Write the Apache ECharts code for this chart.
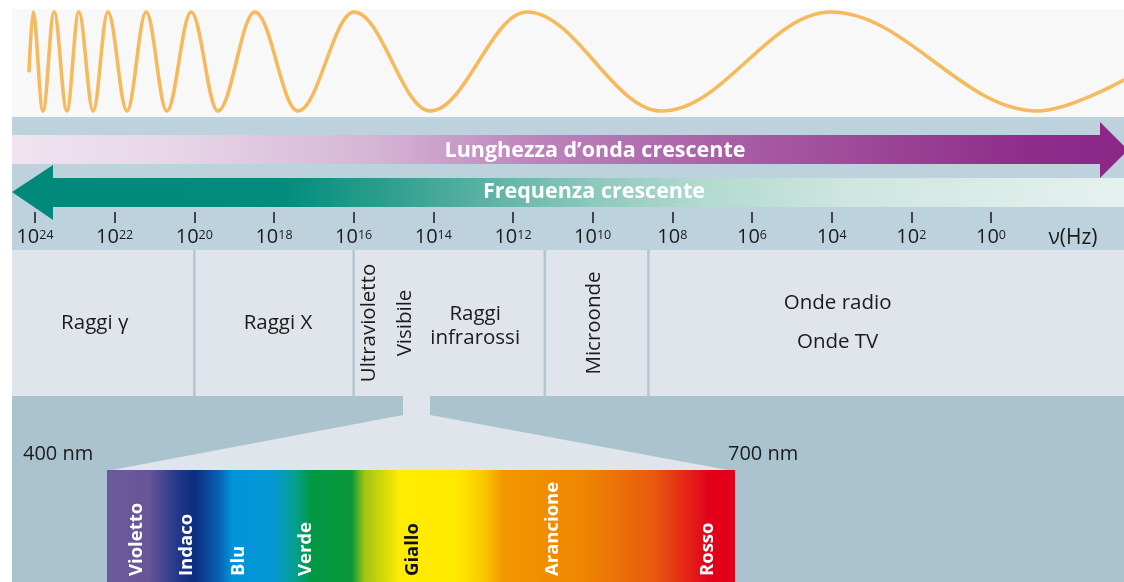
<!DOCTYPE html>
<html>
<head>
<meta charset="utf-8">
<script src="https://cdn.jsdelivr.net/npm/echarts@6/dist/echarts.min.js"></script>
<style>
html,body{margin:0;padding:0;background:#ffffff;}
#c{width:1124px;height:582px;}
</style>
</head>
<body>
<div id="c"></div>
<script>
// ---------- DATA ----------
// Frequency axis tick exponents (log10 of Hz)
const freqTickExp = [24, 22, 20, 18, 16, 14, 12, 10, 8, 6, 4, 2, 0];
// Boundaries between spectral regions (log10 Hz)
const regionSeparatorExp = [20, 16, 11.2, 8.6];
// Region labels written horizontally and their positions (log10 Hz)
const horizontalRegionNames = ['Raggi γ', 'Raggi X', 'Raggi\ninfrarossi', 'Onde radio\nOnde TV'];
const horizontalRegionExp = [22.5, 17.9, 12.95, 3.85];
// Region labels written vertically and their positions (log10 Hz)
const verticalRegionNames = ['Ultravioletto', 'Visibile', 'Microonde'];
const verticalRegionExp = [15.6, 14.7, 9.95];
// Decorative wave: extremes along the frequency scale (log10 Hz) and level (-1..1)
const waveExp = [24.15, 24.05, 23.80, 23.52, 23.20, 22.90, 22.54, 22.17, 21.69, 21.21, 20.69, 20.08, 19.41, 18.48, 17.40, 15.99, 14.08, 11.65, 8.26, 4.02, -1.16, -3.34];
const waveLevel = [-0.22, 1, -1, 1, -1, 1, -1, 1, -1, 1, -1, 1, -1, 1, -1, 1, -1, 1, -1, 1, -1, -0.37];
// Visible spectrum colour stops (nm)
const spectrumNm = [400, 420, 433, 442, 453, 460, 479, 490, 497, 517, 523, 540, 567, 580, 589, 628, 661, 688, 700];
const spectrumColor = ['#6a5a9b', '#675597', '#26398a', '#0a2d80', '#0a5eb0', '#0095da', '#0598d6', '#05a08e', '#009844', '#0c983a', '#a0c414', '#ffec00', '#ffe900', '#fbc800', '#f39700', '#ef8500', '#e85a10', '#e2001a', '#e2001a'];
// Colour names and their positions (nm)
const colorNames = ['Violetto', 'Indaco', 'Blu', 'Verde', 'Giallo', 'Arancione', 'Rosso'];
const colorNameNm = [414, 438, 463, 495, 546, 613, 687];
// Wavelength limits of visible band
const visibleLimitsNm = [400, 700];

// ---------- STYLE ----------
const FONT = "'Open Sans', 'Noto Sans', sans-serif";
const TEXT = '#1b1b1b';
const EXP_MIN = -3.339, EXP_MAX = 24.577;
const darkLabels = new Set(['Giallo']);
const labelLineHeight = {'Raggi\ninfrarossi': 24, 'Onde radio\nOnde TV': 39};

const chart = echarts.init(document.getElementById('c'));

function txt(x, y, text, extra) {
  return {
    type: 'text', x: x, y: y, z: 1,
    style: Object.assign({text: text, fill: TEXT, fontSize: 20, fontFamily: FONT,
      align: 'left', verticalAlign: 'middle', textAlign: 'left', textVerticalAlign: 'middle'}, extra || {})
  };
}

const option = {
  backgroundColor: '#ffffff',
  animation: false,
  grid: [
    {left: 12, right: 0, top: 12, height: 99},
    {left: 35, right: 133, top: 200, height: 12},
    {left: 12, right: 0, top: 250, height: 146},
    {left: 107, right: 389, top: 470, height: 112}
  ],
  xAxis: [
    {gridIndex: 0, type: 'value', min: EXP_MIN, max: EXP_MAX, inverse: true, show: false},
    {gridIndex: 1, type: 'value', min: 0, max: 24, inverse: true, z: 10,
      axisLine: {show: false}, splitLine: {show: false},
      axisTick: {show: true, length: 11, customValues: freqTickExp, lineStyle: {color: '#222', width: 1.6}},
      axisLabel: {show: true, margin: 15, customValues: freqTickExp, color: TEXT,
        formatter: v => '{b|10}{s|' + v + '}',
        rich: {
          b: {fontSize: 20, fontFamily: FONT, color: TEXT},
          s: {fontSize: 12.5, fontFamily: FONT, color: TEXT, verticalAlign: 'top', padding: [2, 0, 0, 0]}
        }}
    },
    {gridIndex: 2, type: 'value', min: EXP_MIN, max: EXP_MAX, inverse: true, show: false},
    {gridIndex: 3, type: 'value', min: visibleLimitsNm[0], max: visibleLimitsNm[1], show: false}
  ],
  yAxis: [
    {gridIndex: 0, type: 'value', min: -1, max: 1, show: false},
    {gridIndex: 1, type: 'value', min: 0, max: 1, show: false},
    {gridIndex: 2, type: 'value', min: 0, max: 1, show: false},
    {gridIndex: 3, type: 'value', min: 0, max: 1, show: false}
  ],
  graphic: [
    {type: 'rect', z: 0, shape: {x: 12, y: 9, width: 1112, height: 108}, style: {fill: '#f8f8f8'}},
    {type: 'rect', z: 0, shape: {x: 12, y: 117, width: 1112, height: 133}, style: {fill: '#bed2dd'}},
    {type: 'polygon', z: 0,
      shape: {points: [[12, 135], [1100, 135], [1100, 122], [1128, 150], [1100, 178], [1100, 164], [12, 164]]},
      style: {fill: {type: 'linear', x: 0, y: 0, x2: 1, y2: 0, colorStops: [
        {offset: 0, color: '#efe4f0'}, {offset: 0.15, color: '#e7d5e7'}, {offset: 0.32, color: '#d6b6d6'},
        {offset: 0.47, color: '#bd83bb'}, {offset: 0.6, color: '#ad67aa'}, {offset: 0.75, color: '#9e4b9a'},
        {offset: 0.9, color: '#8f2e8b'}, {offset: 1, color: '#8a2686'}]}}},
    {type: 'polygon', z: 0,
      shape: {points: [[12, 192], [53, 165], [53, 178], [1124, 178], [1124, 207], [53, 207], [53, 220]]},
      style: {fill: {type: 'linear', x: 0, y: 0, x2: 1, y2: 0, colorStops: [
        {offset: 0, color: '#00897a'}, {offset: 0.24, color: '#008b7c'}, {offset: 0.33, color: '#2a9d8d'},
        {offset: 0.43, color: '#5db3a5'}, {offset: 0.52, color: '#8cc8bc'}, {offset: 0.62, color: '#b2dacf'},
        {offset: 0.75, color: '#cde6df'}, {offset: 0.9, color: '#dcede8'}, {offset: 1, color: '#e5f1ee'}]}}},
    txt(595, 151, 'Lunghezza d’onda crescente', {fill: '#ffffff', fontWeight: 'bold', fontSize: 21.5, align: 'center', textAlign: 'center'}),
    txt(594, 192, 'Frequenza crescente', {fill: '#ffffff', fontWeight: 'bold', fontSize: 21.5, align: 'center', textAlign: 'center'}),
    txt(1073, 238, 'ν(Hz)', {align: 'center', textAlign: 'center', fontSize: 21}),
    {type: 'rect', z: 0, shape: {x: 12, y: 250, width: 1112, height: 146}, style: {fill: '#dfe5ea'}},
    {type: 'rect', z: 0, shape: {x: 12, y: 396, width: 1112, height: 186}, style: {fill: '#abc3cf'}},
    {type: 'polygon', z: 0,
      shape: {points: [[403, 395], [430, 395], [430, 415], [728, 470], [112, 470], [403, 415]]},
      style: {fill: '#dfe5ea'}},
    txt(23, 454, visibleLimitsNm[0] + ' nm'),
    txt(728, 454, visibleLimitsNm[1] + ' nm')
  ],
  series: [
    {
      type: 'line', xAxisIndex: 0, yAxisIndex: 0, silent: true, clip: false,
      data: waveExp.map((e, i) => [e, waveLevel[i]]),
      smooth: 0.36, smoothMonotone: 'x', showSymbol: false, symbol: 'none',
      lineStyle: {color: '#f5b95e', width: 3.6}
    },
    {
      type: 'custom', xAxisIndex: 2, yAxisIndex: 2, silent: true,
      data: regionSeparatorExp.map(v => [v]),
      renderItem: (params, api) => {
        const cs = params.coordSys;
        const x = api.coord([api.value(0), 0])[0];
        return {type: 'line', shape: {x1: x, y1: cs.y, x2: x, y2: cs.y + cs.height},
          style: {stroke: '#b2c7d3', lineWidth: 2.5}};
      }
    },
    {
      type: 'custom', xAxisIndex: 2, yAxisIndex: 2, silent: true,
      data: horizontalRegionExp.map(v => [v]),
      renderItem: (params, api) => {
        const cs = params.coordSys;
        const x = api.coord([api.value(0), 0])[0];
        const name = horizontalRegionNames[params.dataIndex];
        return {type: 'text', x: x, y: cs.y + cs.height / 2 + (name.indexOf('infrarossi') >= 0 ? 3 : 0),
          style: {text: name, fill: TEXT, fontSize: 20.5, fontFamily: FONT,
            lineHeight: labelLineHeight[name] || 24,
            align: 'center', verticalAlign: 'middle', textAlign: 'center', textVerticalAlign: 'middle'}};
      }
    },
    {
      type: 'custom', xAxisIndex: 2, yAxisIndex: 2, silent: true,
      data: verticalRegionExp.map(v => [v]),
      renderItem: (params, api) => {
        const cs = params.coordSys;
        const x = api.coord([api.value(0), 0])[0];
        return {type: 'text', x: x, y: cs.y + cs.height / 2, rotation: Math.PI / 2,
          style: {text: verticalRegionNames[params.dataIndex], fill: TEXT, fontSize: 20.5, fontFamily: FONT,
            align: 'center', verticalAlign: 'middle', textAlign: 'center', textVerticalAlign: 'middle'}};
      }
    },
    {
      type: 'custom', xAxisIndex: 3, yAxisIndex: 3, silent: true,
      data: [[visibleLimitsNm[0], visibleLimitsNm[1]]],
      renderItem: (params, api) => {
        const p0 = api.coord([api.value(0), 1]);
        const p1 = api.coord([api.value(1), 0]);
        const span = visibleLimitsNm[1] - visibleLimitsNm[0];
        return {type: 'rect', shape: {x: p0[0], y: p0[1], width: p1[0] - p0[0], height: p1[1] - p0[1]},
          style: {fill: new echarts.graphic.LinearGradient(0, 0, 1, 0,
            spectrumNm.map((nm, i) => ({offset: (nm - visibleLimitsNm[0]) / span, color: spectrumColor[i]})))}};
      }
    },
    {
      type: 'custom', xAxisIndex: 3, yAxisIndex: 3, silent: true, z: 5,
      data: colorNameNm.map(v => [v]),
      renderItem: (params, api) => {
        const cs = params.coordSys;
        const x = api.coord([api.value(0), 0])[0];
        const name = colorNames[params.dataIndex];
        return {type: 'text', x: x, y: cs.y + cs.height - 6, rotation: Math.PI / 2,
          style: {text: name, fill: darkLabels.has(name) ? '#111111' : '#ffffff',
            fontSize: 18.5, fontWeight: 'bold', fontFamily: FONT,
            align: 'left', verticalAlign: 'middle', textAlign: 'left', textVerticalAlign: 'middle'}};
      }
    }
  ]
};
chart.setOption(option);
</script>
</body>
</html>
